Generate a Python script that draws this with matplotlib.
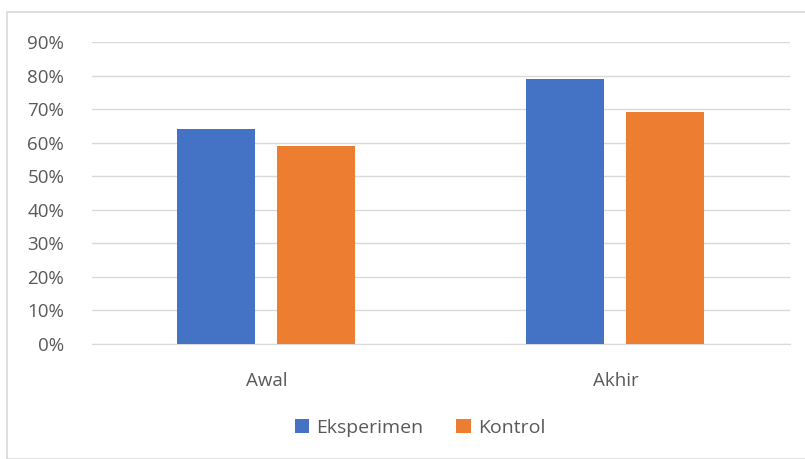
import matplotlib.pyplot as plt
import matplotlib.patches as mpatches
import numpy as np

categories = ["Awal", "Akhir"]
eksperimen = [64, 79]
kontrol = [59, 69]
yticks = [0, 10, 20, 30, 40, 50, 60, 70, 80, 90]

plt.rcParams['font.family'] = ['Open Sans', 'DejaVu Sans']
W, H = 805, 459
fig = plt.figure(figsize=(W / 100, H / 100), dpi=100)

# outer chart border
fig.patches.append(mpatches.Rectangle((7 / W, 0), 1.2, 1 - 12 / H, transform=fig.transFigure,
                                      fill=False, edgecolor='#d9d9d9', linewidth=1.2))

ax = fig.add_axes([92 / W, 1 - 344 / H, 698 / W, (344 - 42) / H])
x = np.arange(len(categories))
bw = 0.224
ax.bar(x - 0.1437, eksperimen, bw, color='#4472c4', label='Eksperimen', zorder=3)
ax.bar(x + 0.1415, kontrol, bw, color='#ed7d31', label='Kontrol', zorder=3)

ax.set_xlim(-0.5, 1.5)
ax.set_ylim(0, 90)
ax.set_yticks(yticks)
ax.set_yticklabels([f"{v}%" for v in yticks])
ax.set_xticks(x)
ax.set_xticklabels(categories)
ax.grid(axis='y', color='#d9d9d9', linewidth=1, zorder=0)
for s in ['top', 'right', 'left']:
    ax.spines[s].set_visible(False)
ax.spines['bottom'].set_color('#d9d9d9')
ax.tick_params(axis='both', length=0, labelsize=13.5, colors='#595959')
ax.tick_params(axis='y', pad=20)
ax.tick_params(axis='x', pad=20)

leg = fig.legend(loc='center', bbox_to_anchor=(420 / W, 1 - 428 / H), ncol=2, frameon=False,
                 fontsize=14, handlelength=0.75, handleheight=0.75, handletextpad=0.35,
                 columnspacing=1.7)
for t in leg.get_texts():
    t.set_color('#595959')

plt.savefig("out.png", dpi=100)
